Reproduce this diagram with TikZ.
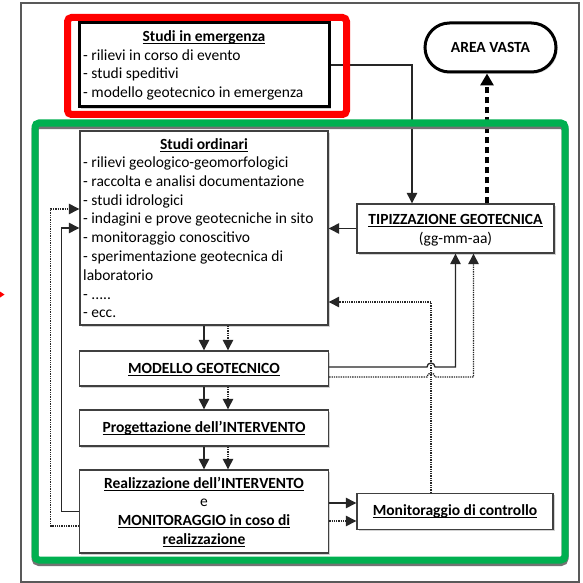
\documentclass[tikz,border=0pt]{standalone}
\usepackage{fontspec}
\setmainfont{Carlito}
\usetikzlibrary{arrows.meta,calc,shadows}
\newsavebox\ulbox
\newcommand\ulx[1]{\sbox\ulbox{#1}\rlap{\rule[-2.8pt]{\wd\ulbox}{0.9pt}}\usebox\ulbox}
\newcommand\fs{\fontsize{15.5}{19}\selectfont}
\begin{document}
\begin{tikzpicture}[x=1pt,y=-1pt,
  every node/.style={inner sep=0pt},
  box/.style={draw=black!75,line width=1.4pt,fill=white,
    drop shadow={shadow xshift=1.6pt,shadow yshift=-1.6pt,fill=black!35}},
  txt/.style={font=\fs,text=black,anchor=base},
  btxt/.style={font=\fs\bfseries,text=black,anchor=base},
  ltxt/.style={font=\fs,text=black,anchor=base west},
  arr/.style={line width=1.3pt,draw=black!85,-{Triangle[length=10.5pt,width=10.5pt]}},
  darr/.style={arr,densely dotted},
  dasharr/.style={line width=3.5pt,draw=black,dash pattern=on 6pt off 4pt,-{Triangle[length=12pt,width=13pt]}}
]
\useasboundingbox (0,0) rectangle (583,583);
\fill[white] (0,0) rectangle (583,583);
\draw[black!65,line width=1.2pt] (21,3) rectangle (579,582);

% boxes
\node[box,line width=3pt,draw=black,minimum width=250pt,minimum height=84pt] (emerg) at (204,65) {};
\node[box,line width=3pt,draw=black,rounded corners=24.5pt,minimum width=131pt,minimum height=49pt] (area) at (490.5,47.5) {};
\node[box,minimum width=248pt,minimum height=194pt] (ordinari) at (204,228) {};
\node[box,minimum width=197pt,minimum height=49pt] (tipizz) at (455.5,228.5) {};
\node[box,minimum width=249pt,minimum height=35pt] (modello) at (204,368.5) {};
\node[box,minimum width=249pt,minimum height=36pt] (progett) at (204,428) {};
\node[box,minimum width=249pt,minimum height=83pt] (realizz) at (204,511.5) {};
\node[box,minimum width=196pt,minimum height=36pt] (monitor) at (455,511.5) {};

% texts
\node[btxt] (emT) at (204,41.5) {\ulx{Studi in emergenza}};
\node[ltxt] (em1) at (83,60.5) {- rilievi in corso di evento};
\node[ltxt] (em2) at (83,79) {- studi speditivi};
\node[ltxt] (em3) at (83,97.5) {- modello geotecnico in emergenza};

\node[btxt] (areaT) at (490.5,52.5) {AREA VASTA};

\node[btxt] (ordT) at (204,149.5) {\ulx{Studi ordinari}};
\node[ltxt] (ord1) at (83,167.5) {- rilievi geologico-geomorfologici};
\node[ltxt] (ord2) at (83,186.3) {- raccolta e analisi documentazione};
\node[ltxt] (ord3) at (83,205.1) {- studi idrologici};
\node[ltxt] (ord4) at (83,223.9) {- indagini e prove geotecniche in sito};
\node[ltxt] (ord5) at (83,242.7) {- monitoraggio conoscitivo};
\node[ltxt] (ord6) at (83,261.5) {- sperimentazione geotecnica di};
\node[ltxt] (ord7) at (83,280.3) {laboratorio};
\node[ltxt] (ord8) at (83,299.1) {- .{}.{}.{}.{}.};
\node[ltxt] (ord9) at (83,317.9) {- ecc.};

\node[btxt] (tipT) at (455.5,224) {\ulx{TIPIZZAZIONE GEOTECNICA}};
\node[txt] (tipD) at (455.5,243) {(gg-mm-aa)};

\node[btxt] (modT) at (204,373) {\ulx{MODELLO GEOTECNICO}};
\node[btxt] (proT) at (204,432.5) {\ulx{Progettazione dell’INTERVENTO}};
\node[btxt] (reaT1) at (204,488) {\ulx{Realizzazione dell’INTERVENTO}};
\node[txt] (reaT2) at (204,506.7) {e};
\node[btxt] (reaT3) at (204,525.4) {\ulx{MONITORAGGIO in coso di}};
\node[btxt] (reaT4) at (204,544.1) {\ulx{realizzazione}};
\node[btxt] (monT) at (455,515.5) {\ulx{Monitoraggio di controllo}};

% connectors
\draw[arr] (emerg.east) -| ($(tipizz.north)+(-43.5,0)$);
\draw[dasharr] ($(tipizz.north)+(31.5,0)$) -- ($(area.south)+(-3.5,0)$);
\draw[arr] (tipizz.west) -- (ordinari.east |- tipizz.west);

\draw[arr] (ordinari.south) -- (modello.north);
\draw[darr] ($(ordinari.south)+(24,0)$) -- ($(modello.north)+(24,0)$);
\draw[arr] (modello.south) -- (progett.north);
\draw[darr] ($(modello.south)+(24,0)$) -- ($(progett.north)+(24,0)$);
\draw[arr] (progett.south) -- (realizz.north);
\draw[darr] ($(progett.south)+(24,0)$) -- ($(realizz.north)+(24,0)$);

\draw[arr] ($(realizz.east)+(0,-8.5)$) -- ($(monitor.west)+(0,-8.5)$);
\draw[darr] ($(realizz.east)+(0,9.5)$) -- ($(monitor.west)+(0,9.5)$);

\coordinate (hx) at ($(monitor.north)+(-24,0)$);
\coordinate (hm) at (hx |- modello.east);
\draw[darr] (hx) |- ($(ordinari.east)+(0,74)$);
\draw[arr] ($(modello.east)+(0,-1.5)$) -- ($(hm)+(-4,-1.5)$)
  arc[start angle=180,end angle=360,radius=4] -| (tipizz.south);
\draw[darr] ($(modello.east)+(0,8.5)$) -- ($(hm)+(-4,8.5)$)
  arc[start angle=180,end angle=360,radius=4] -| ($(tipizz.south)+(18,0)$);

\draw[arr] (realizz.west) -- ++(-17,0) |- (ordinari.west);
\draw[darr] ($(realizz.west)+(0,14.5)$) -- ++(-28,0) |- ($(ordinari.west)+(0,-19)$);

% highlight frames
\definecolor{hlgreen}{HTML}{00B050}
\draw[red,line width=7pt,rounded corners=4pt] (67.5,17.5) rectangle (346.5,114.5);
\draw[black!55,line width=7pt,rounded corners=4pt] (35,125.5) rectangle (565,562.5);
\draw[hlgreen,line width=7pt,rounded corners=4pt] (35,123) rectangle (565,560);
\fill[red] (0,291.5) -- (4.5,294.5) -- (0,297.5) -- cycle;
\end{tikzpicture}
\end{document}
